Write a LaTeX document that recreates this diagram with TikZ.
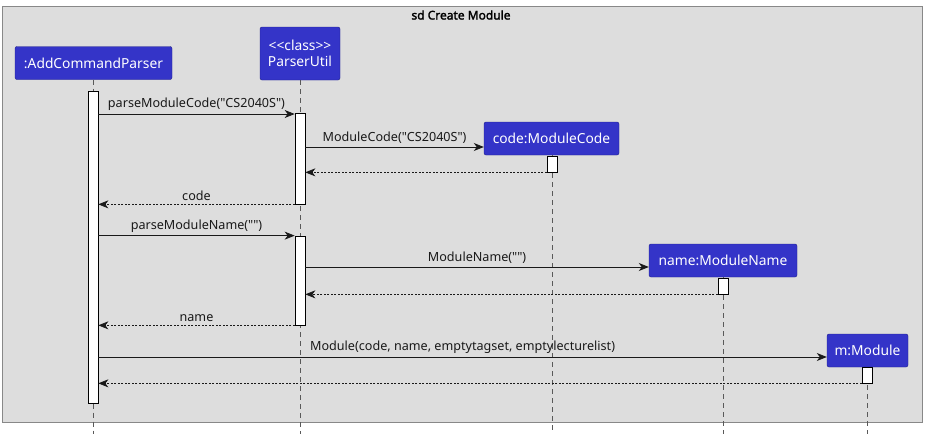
\documentclass[tikz,border=0pt]{standalone}
\usepackage{fontspec}
\setmainfont{Noto Sans}[Ligatures=TeXOff,AutoFakeBold=2]
\usetikzlibrary{arrows.meta,calc}

\definecolor{partblue}{HTML}{3434C8}
\definecolor{partedge}{HTML}{20208A}
\definecolor{framegray}{HTML}{DDDDDD}
\definecolor{frameedge}{HTML}{888888}

\begin{document}
\begin{tikzpicture}[x=1pt,y=-1pt,>={Stealth[length=10pt,width=8pt,inset=3pt]},
  font=\fontsize{12.6}{15}\selectfont,
  part/.style={draw=partedge,fill=partblue,text=white,rounded corners=2pt,
    font=\fontsize{13.8}{16.5}\selectfont,align=center,inner xsep=6pt,minimum height=33pt},
  life/.style={draw=black!65,line width=0.5pt,dash pattern=on 5pt off 4pt},
  act/.style={draw=black,fill=white,line width=0.7pt,minimum width=10pt,inner sep=0pt},
  call/.style={->,draw=black!90,line width=0.8pt},
  reply/.style={->,draw=black!90,line width=0.8pt,dash pattern=on 2pt off 1.5pt},
  lbl/.style={above,inner sep=3pt,text=black!90}]
  \useasboundingbox (0,0) rectangle (927,434);
  \def\Ybot{434}  % lifelines run off the page
  % frame
  \draw[fill=framegray,draw=frameedge,line width=0.8pt] (2,6) rectangle (922,422);
  \node[font=\bfseries\fontsize{12}{14}\selectfont] (title) at (461,15) {sd Create Module};
  % participants
  \node[part,minimum width=157pt] (acp) at (93.5,63) {:AddCommandParser};
  \node[part,minimum width=80pt,minimum height=53pt] (pu) at (300,53.5) {<\kern0pt<class>\kern0pt>\\ParserUtil};
  \node[part,minimum width=135pt] (mc) at (551.5,138.5) {code:ModuleCode};
  \node[part,minimum width=148pt] (mn) at (723,260.5) {name:ModuleName};
  \node[part,minimum width=81pt] (mm) at (867.5,350.5) {m:Module};
  % lifelines
  \foreach \p/\x in {acp/93,pu/300,mc/552,mn/723,mm/867}
    \draw[life] (\p.south -| \x,0) -- (\x,\Ybot);
  % activation bars
  \node[act,minimum height=312pt] (a1) at (93,247) {};
  \node[act,minimum height=91pt] (p1) at (300,158.5) {};
  \node[act,minimum height=89pt] (p2) at (300,280.5) {};
  \node[act,minimum height=16pt] (c1) at (552,164) {};
  \node[act,minimum height=16pt] (n1) at (723,286) {};
  \node[act,minimum height=16pt] (m1) at (867,375) {};
  % message levels
  \coordinate (y1) at (0,114);
  \coordinate (y2) at (0,147);
  \coordinate (y6) at (0,267);
  \coordinate (y9) at (0,357);
  % messages
  \draw[call] (a1.east |- y1) -- (p1.west |- y1) node[midway,lbl]{parseModuleCode("CS2040S")};
  \draw[call] (p1.east |- y2) -- (mc.west |- y2) node[midway,lbl]{ModuleCode("CS2040S")};
  \draw[reply] (c1.south west) -- (p1.east |- c1.south west);
  \draw[reply] (p1.south west) -- (a1.east |- p1.south west) node[midway,lbl]{code};
  \draw[call] (a1.east |- p2.north) -- (p2.north west) node[midway,lbl]{parseModuleName("")};
  \draw[call] (p2.east |- y6) -- (mn.west |- y6) node[midway,lbl]{ModuleName("")};
  \draw[reply] (n1.south west) -- (p2.east |- n1.south west);
  \draw[reply] (p2.south west) -- (a1.east |- p2.south west) node[midway,lbl]{name};
  \draw[call] (a1.east |- y9) -- (mm.west |- y9) node[midway,lbl]{Module(code, name, emptytagset, emptylecturelist)};
  \draw[reply] (m1.south west) -- (a1.east |- m1.south west);
\end{tikzpicture}
\end{document}
